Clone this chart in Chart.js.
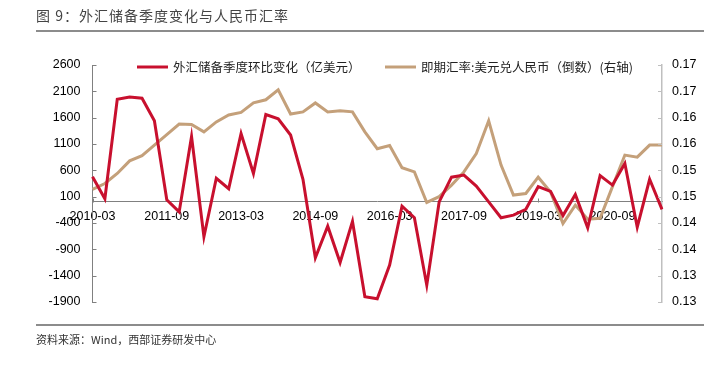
<!DOCTYPE html>
<html>
<head>
<meta charset="utf-8">
<script src="https://cdn.jsdelivr.net/npm/chart.js@4.4.1/dist/chart.umd.min.js"></script>
<style>
  html, body { margin: 0; padding: 0; background: #fff; }
  #wrap { position: relative; width: 709px; height: 368px; overflow: hidden; }
  #chart { position: absolute; left: 0; top: 0; }
  .title { position: absolute; left: 36px; top: 5px; font: 14px "Noto Sans CJK SC", sans-serif; color: #444; letter-spacing: 1px; white-space: nowrap; }
  .rule { position: absolute; left: 36px; width: 668px; height: 2px; background: #8c8c8c; }
  .src { position: absolute; left: 36px; top: 331px; font: 11px "Noto Sans CJK SC", sans-serif; color: #333; white-space: nowrap; }
</style>
</head>
<body>
<div id="wrap">
  <canvas id="chart" width="709" height="368"></canvas>
  <div class="title">图 9：外汇储备季度变化与人民币汇率</div>
  <div class="rule" style="top:30px"></div>
  <div class="rule" style="top:324px"></div>
  <div class="src">资料来源：Wind，西部证券研发中心</div>
</div>
<script>
'use strict';

/* ── Data ────────────────────────────────────────────────────────────── */
const QUARTERS = [
    '2010-03', '2010-06', '2010-09', '2010-12', '2011-03', '2011-06', '2011-09', '2011-12',
    '2012-03', '2012-06', '2012-09', '2012-12', '2013-03', '2013-06', '2013-09', '2013-12',
    '2014-03', '2014-06', '2014-09', '2014-12', '2015-03', '2015-06', '2015-09', '2015-12',
    '2016-03', '2016-06', '2016-09', '2016-12', '2017-03', '2017-06', '2017-09', '2017-12',
    '2018-03', '2018-06', '2018-09', '2018-12', '2019-03', '2019-06', '2019-09', '2019-12',
    '2020-03', '2020-06', '2020-09', '2020-12', '2021-03', '2021-06', '2021-09',
];

// 外汇储备季度环比变化（亿美元）
const RESERVE_CHG = [
    480, 60, 1950, 1990, 1970, 1540, 40, -190,
    1240, -660, 450, 250, 1300, 540, 1660, 1580,
    1270, 430, -1060, -460, -1150, -370, -1800, -1840,
    -1200, -80, -300, -1580, 0, 470, 510, 300,
    0, -300, -250, -140, 290, 200, -260, 140,
    -490, 500, 320, 730, -480, 430, -140,
];

// 即期汇率:美元兑人民币（倒数）
const FX_INV = [
    0.1494, 0.1505, 0.1524, 0.1548, 0.1558, 0.1578, 0.1598, 0.1618,
    0.1617, 0.1603, 0.1622, 0.1635, 0.1640, 0.1658, 0.1664, 0.1683,
    0.1637, 0.1641, 0.1658, 0.1641, 0.1643, 0.1641, 0.1603, 0.1571,
    0.1577, 0.1535, 0.1527, 0.1469, 0.1480, 0.1502, 0.1527, 0.1562,
    0.1624, 0.1540, 0.1483, 0.1486, 0.1517, 0.1489, 0.1429, 0.1464,
    0.1437, 0.1439, 0.1499, 0.1559, 0.1555, 0.1578, 0.1578,
];

const LEFT_TICKS  = [-1900, -1400, -900, -400, 100, 600, 1100, 1600, 2100, 2600];
const RIGHT_TICKS = [0.128, 0.133, 0.138, 0.143, 0.148, 0.153, 0.158, 0.163, 0.168, 0.173];

const LABEL_EVERY = 6;

/* ── Style ───────────────────────────────────────────────────────────── */
const RED = '#C8102E';
const TAN = '#C4A07A';
const AXIS = '#808080';
const NUM_FONT = { family: '"Liberation Sans", Arial, sans-serif', size: 12.5 };
const CJK_FONT = '12.5px "Noto Sans CJK SC", sans-serif';

/* Short inward tick marks, as in the source chart */
const innerTicks = {
    id: 'innerTicks',
    afterDraw(chart) {
        const { ctx, chartArea: a, scales } = chart;
        ctx.save();
        ctx.lineWidth = 1;
        ctx.strokeStyle = AXIS;
        ctx.beginPath();
        scales.y.ticks.forEach(t => {
            const py = Math.round(scales.y.getPixelForValue(t.value)) + 0.5;
            ctx.moveTo(a.left, py); ctx.lineTo(a.left + 4, py);
        });
        const y0 = Math.round(scales.y.getPixelForValue(0)) + 0.5;
        scales.x.ticks.forEach((t, i) => {
            if (i % LABEL_EVERY) return;
            const px = Math.round(scales.x.getPixelForTick(i)) + 0.5;
            ctx.moveTo(px, y0); ctx.lineTo(px, y0 - 4);
        });
        ctx.stroke();
        ctx.strokeStyle = '#bfbfbf';
        ctx.beginPath();
        scales.y1.ticks.forEach(t => {
            const py = Math.round(scales.y1.getPixelForValue(t.value)) + 0.5;
            ctx.moveTo(a.right - 4, py); ctx.lineTo(a.right, py);
        });
        ctx.stroke();
        ctx.restore();
    },
};

/* Legend drawn inside the plot, on one row */
const insideLegend = {
    id: 'insideLegend',
    afterDraw(chart) {
        const { ctx } = chart;
        const items = [{ x: 137, ds: chart.data.datasets[0] }, { x: 385, ds: chart.data.datasets[1] }];
        const y = 67;
        ctx.save();
        ctx.font = CJK_FONT;
        ctx.textBaseline = 'middle';
        items.forEach(it => {
            ctx.strokeStyle = it.ds.borderColor;
            ctx.lineWidth = 3;
            ctx.beginPath();
            ctx.moveTo(it.x, y); ctx.lineTo(it.x + 31, y);
            ctx.stroke();
            ctx.fillStyle = '#222';
            ctx.fillText(it.ds.label, it.x + 36, y);
        });
        ctx.restore();
    },
};

new Chart(document.getElementById('chart'), {
    type: 'line',
    data: {
        labels: QUARTERS,
        datasets: [
            { label: '外汇储备季度环比变化（亿美元）', data: RESERVE_CHG, yAxisID: 'y', borderColor: RED, borderWidth: 3, pointRadius: 0, tension: 0 },
            { label: '即期汇率:美元兑人民币（倒数）(右轴)', data: FX_INV, yAxisID: 'y1', borderColor: TAN, borderWidth: 3, pointRadius: 0, tension: 0 },
        ],
    },
    options: {
        responsive: false,
        animation: false,
        layout: { padding: { left: 0, right: 0, top: 65, bottom: 66 } },
        plugins: { legend: { display: false }, tooltip: { enabled: false } },
        scales: {
            x: {
                position: { y: 0 },
                grid: { display: false, drawTicks: false },
                border: { color: AXIS, width: 1 },
                ticks: {
                    autoSkip: false, maxRotation: 0, padding: 7,
                    color: '#000', font: NUM_FONT,
                    callback(v, i) { return i % LABEL_EVERY === 0 ? this.getLabelForValue(v) : null; },
                },
            },
            y: {
                position: 'left',
                min: LEFT_TICKS[0], max: LEFT_TICKS[LEFT_TICKS.length - 1],
                afterBuildTicks: s => { s.ticks = LEFT_TICKS.map(v => ({ value: v })); },
                afterFit: s => { s.width = 92.5; },
                grid: { display: false, drawTicks: false },
                border: { color: AXIS, width: 1 },
                ticks: { color: '#000', font: NUM_FONT, padding: 12, callback: v => String(v) },
            },
            y1: {
                position: 'right',
                min: RIGHT_TICKS[0], max: RIGHT_TICKS[RIGHT_TICKS.length - 1],
                afterBuildTicks: s => { s.ticks = RIGHT_TICKS.map(v => ({ value: v })); },
                afterFit: s => { s.width = 47; },
                grid: { display: false, drawTicks: false },
                border: { color: '#bfbfbf', width: 1.5 },
                ticks: { color: '#000', font: NUM_FONT, padding: 10, callback: v => v.toFixed(2) },
            },
        },
    },
    plugins: [innerTicks, insideLegend],
});
</script>
</body>
</html>
